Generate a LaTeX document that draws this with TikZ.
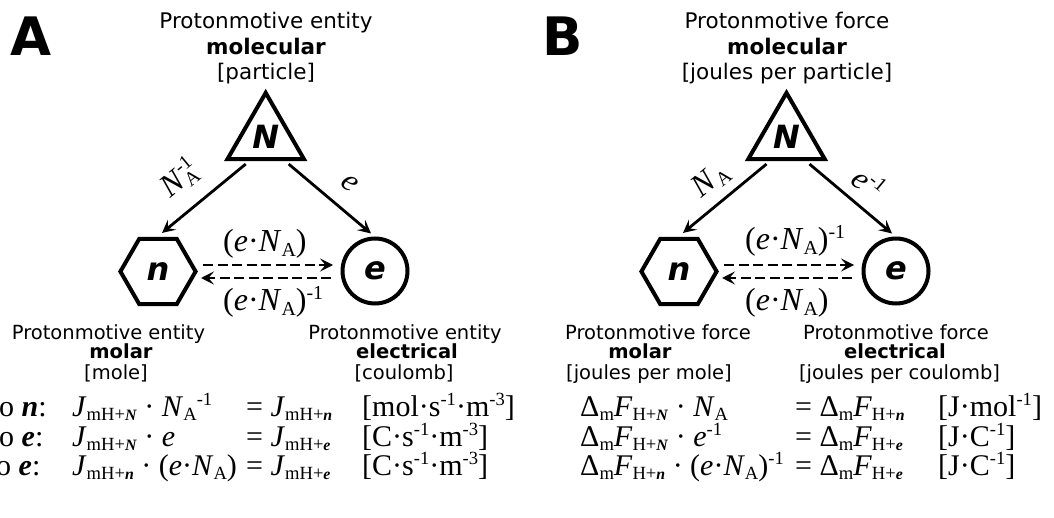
\documentclass[tikz,border=0pt]{standalone}
\usepackage{fontspec}
\setmainfont{Liberation Serif}
\newfontfamily\dvs{DejaVu Sans}
\usetikzlibrary{shapes.geometric,arrows.meta}
\newcommand\bi[1]{\textbf{\textit{#1}}}
\newcommand\lo[1]{\raisebox{-0.15em}{\scalebox{0.62}{#1}}}
\newcommand\hi[1]{\raisebox{0.36em}{\scalebox{0.62}{#1}}}
\newcommand\bsm[1]{\scalebox{0.85}{\bi{#1}}}
\newcommand\Jx[1]{\textit{J}\lo{mH+\bsm{#1}}}
\newcommand\DF[1]{Δ\lo{m}\textit{F}\lo{H+\bsm{#1}}}
\newcommand\eNA{(\textit{e}·\textit{N}\lo{A})}
\begin{document}
\begin{tikzpicture}[x=1pt,y=-1pt,
  panel/.style={font=\dvs\bfseries\fontsize{53}{53}\selectfont, anchor=base west, inner sep=0},
  ttl/.style={font=\dvs\fontsize{21.5}{25}\selectfont, anchor=base, inner sep=0},
  ttlb/.style={font=\dvs\bfseries\fontsize{21.5}{25}\selectfont, anchor=base, inner sep=0},
  hd/.style={font=\dvs\fontsize{19.5}{23}\selectfont, anchor=base, inner sep=0},
  hdb/.style={font=\dvs\bfseries\fontsize{19.5}{23}\selectfont, anchor=base, inner sep=0},
  eq/.style={font=\fontsize{30}{30}\selectfont, anchor=base west, inner sep=0},
  lbl/.style={font=\fontsize{32}{34}\selectfont, inner sep=0},
  lblw/.style={lbl, anchor=base west},
  shp/.style={draw, line width=4pt, inner sep=0, outer sep=0},
  letter/.style={font=\dvs\bfseries\itshape\fontsize{32}{32}\selectfont},
  tri/.style={shp, regular polygon, regular polygon sides=3, minimum size=88.3pt},
  hexa/.style={shp, regular polygon, regular polygon sides=6, minimum size=75.2pt},
  circ/.style={shp, circle, minimum size=65pt},
  arr/.style={-{Stealth[length=13pt,width=13pt,inset=5.5pt]}, line width=2.8pt},
  darr/.style={arr, dash pattern=on 10pt off 4.5pt}
]
\useasboundingbox (0,0) rectangle (1054,518);

% ---------- Panel A ----------
\node[panel] (pA) at (10,56) {A};
\node[ttl]  (tA1) at (266,29) {Protonmotive entity};
\node[ttlb] (tA2) at (266,55) {molecular};
\node[ttl]  (tA3) at (266,80) {[particle]};

\node[tri]  (NA) at (265.7,137) {};
\node[letter] (NAl) at (NA.center) {N};
\node[hexa] (nA) at (158,271.5) {};
\node[letter] (nAl) at (nA.center) {n};
\node[circ] (eA) at (375,271) {};
\node[letter] (eAl) at (eA.center) {e};

\draw[arr] ([shift={(-20,5)}]NA.south) -- ([shift={(4,-6)}]nA.north);
\draw[arr] ([shift={(23,5)}]NA.south) -- ([shift={(-4,-5)}]eA.north);
\draw[darr] ([shift={(7.4,-6.5)}]nA.east) -- ([shift={(-9.5,-6)}]eA.west);
\draw[darr] ([shift={(-11.5,7)}]eA.west) -- ([shift={(5.4,6.5)}]nA.east);

\node[lbl, rotate=39.4] (lA1) at (179,178) {\textit{N}\rlap{\lo{A}}\hi{-1}};
\node[lbl, rotate=-40] (lA2) at (350,183) {\textit{e}};
\node[lblw] (lA3) at (223,252) {\eNA};
\node[lblw] (lA4) at (223,311) {\eNA\hi{-1}};

\node[hd]  (hA1) at (108.5,339) {Protonmotive entity};
\node[hdb] (hA2) at (121,359) {molar};
\node[hd]  (hA3) at (116,379) {[mole]};
\node[hd]  (hA4) at (405,339) {Protonmotive entity};
\node[hdb] (hA5) at (407,359) {electrical};
\node[hd]  (hA6) at (404,379) {[coulomb]};

\node[eq] (a1o) at (-1,416) {o \bi{n}:};
\node[eq] (a1l) at (72,416) {\Jx{N} · \textit{N}\lo{A}\hi{-1}};
\node[eq] (a1m) at (246,416) {= \Jx{n}};
\node[eq] (a1u) at (362,416) {[mol·s\hi{-1}·m\hi{-3}]};
\node[eq] (a2o) at (-1,446) {o \bi{e}:};
\node[eq] (a2l) at (72,446) {\Jx{N} · \textit{e}};
\node[eq] (a2m) at (246,446) {= \Jx{e}};
\node[eq] (a2u) at (362,446) {[C·s\hi{-1}·m\hi{-3}]};
\node[eq] (a3o) at (-4,475) {o \bi{e}:};
\node[eq] (a3l) at (72,475) {\Jx{n} · \eNA};
\node[eq] (a3m) at (246,475) {= \Jx{e}};
\node[eq] (a3u) at (362,475) {[C·s\hi{-1}·m\hi{-3}]};

% ---------- Panel B ----------
\node[panel] (pB) at (542,56) {B};
\node[ttl]  (tB1) at (787,29) {Protonmotive force};
\node[ttlb] (tB2) at (787,55) {molecular};
\node[ttl]  (tB3) at (787,80) {[joules per particle]};

\node[tri]  (NB) at (786.5,137) {};
\node[letter] (NBl) at (NB.center) {N};
\node[hexa] (nB) at (679,271.5) {};
\node[letter] (nBl) at (nB.center) {n};
\node[circ] (eB) at (896,271) {};
\node[letter] (eBl) at (eB.center) {e};

\draw[arr] ([shift={(-20,5)}]NB.south) -- ([shift={(4,-6)}]nB.north);
\draw[arr] ([shift={(23,5)}]NB.south) -- ([shift={(-4,-5)}]eB.north);
\draw[darr] ([shift={(7.4,-6.5)}]nB.east) -- ([shift={(-9.5,-6)}]eB.west);
\draw[darr] ([shift={(-11.5,7)}]eB.west) -- ([shift={(5.4,6.5)}]nB.east);

\node[lbl, rotate=39.4] (lB1) at (711,180) {\textit{N}\lo{A}};
\node[lbl, rotate=-40] (lB2) at (869,183) {\textit{e}\hi{-1}};
\node[lblw] (lB3) at (745,250) {\eNA\hi{-1}};
\node[lblw] (lB4) at (745,311) {\eNA};

\node[hd]  (hB1) at (658,339) {Protonmotive force};
\node[hdb] (hB2) at (640,359) {molar};
\node[hd]  (hB3) at (649,379) {[joules per mole]};
\node[hd]  (hB4) at (896,339) {Protonmotive force};
\node[hdb] (hB5) at (895,359) {electrical};
\node[hd]  (hB6) at (899.5,379) {[joules per coulomb]};

\node[eq] (b1l) at (580,416) {\DF{N} · \textit{N}\lo{A}};
\node[eq] (b1m) at (795,416) {= \DF{n}};
\node[eq] (b1u) at (938,416) {[J·mol\hi{-1}]};
\node[eq] (b2l) at (580,446) {\DF{N} · \textit{e}\hi{-1}};
\node[eq] (b2m) at (795,446) {= \DF{e}};
\node[eq] (b2u) at (938,446) {[J·C\hi{-1}]};
\node[eq] (b3l) at (580,475) {\DF{n} · \eNA\hi{-1}};
\node[eq] (b3m) at (795,475) {= \DF{e}};
\node[eq] (b3u) at (938,475) {[J·C\hi{-1}]};
\end{tikzpicture}
\end{document}
